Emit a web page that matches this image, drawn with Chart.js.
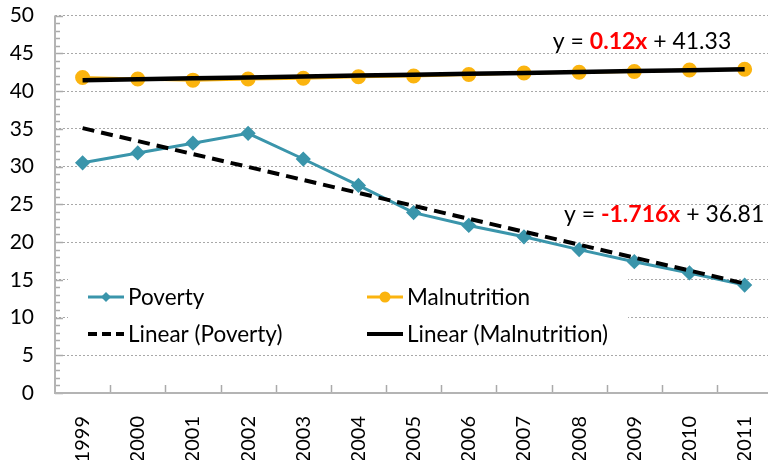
<!DOCTYPE html>
<html>
<head>
<meta charset="utf-8">
<script src="https://cdn.jsdelivr.net/npm/chart.js@4"></script>
<style>
  html, body { margin: 0; padding: 0; background: #fff; overflow: hidden; }
  #myCanvas { display: block; margin-top: -18px; }
</style>
</head>
<body>
<canvas id="myCanvas" width="784" height="478"></canvas>
<script>
const years = ["1999", "2000", "2001", "2002", "2003", "2004", "2005", "2006", "2007", "2008", "2009", "2010", "2011"];
const poverty = [30.5, 31.8, 33.1, 34.4, 31.0, 27.5, 23.9, 22.2, 20.7, 19.0, 17.4, 15.9, 14.3];
const malnutrition = [41.8, 41.6, 41.45, 41.6, 41.7, 41.9, 42.0, 42.2, 42.4, 42.5, 42.6, 42.8, 42.9];
const povertyTrend = [35.09, 33.38, 31.66, 29.95, 28.23, 26.51, 24.8, 23.08, 21.37, 19.65, 17.93, 16.22, 14.5];
const malnutritionTrend = [41.45, 41.57, 41.69, 41.81, 41.93, 42.05, 42.17, 42.29, 42.41, 42.53, 42.65, 42.77, 42.89];
const yTicks = [0, 5, 10, 15, 20, 25, 30, 35, 40, 45, 50];

const teal = "#3A95AB";
const orange = "#FBB40F";
const fontName = "Lato, 'DejaVu Sans', sans-serif";
const shiftY = 18; // canvas is pulled up by this much

// legend and axis decorations drawn by hand (legend sits inside the plot)
const extras = {
  id: "extras",
  beforeDatasetsDraw(chart) {
    const ctx = chart.ctx;
    const area = chart.chartArea;
    const x = chart.scales.x;
    const y = chart.scales.y;
    ctx.save();
    // minor / major ticks on y axis, inside
    ctx.strokeStyle = "#aaaaaa";
    ctx.lineWidth = 1.5;
    for (let v = 0; v <= 50; v++) {
      const py = Math.round(y.getPixelForValue(v)) + 0.5;
      const len = v % 5 === 0 ? 8 : 5;
      ctx.beginPath();
      ctx.moveTo(area.left, py);
      ctx.lineTo(area.left + len, py);
      ctx.stroke();
    }
    // ticks between categories on x axis
    for (let i = 1; i < years.length; i++) {
      const px = Math.round(x.getPixelForValue(i - 0.5)) + 0.5;
      ctx.beginPath();
      ctx.moveTo(px, area.bottom);
      ctx.lineTo(px, area.bottom - 8);
      ctx.stroke();
    }
    // axis lines
    ctx.strokeStyle = "#b4b4b4";
    ctx.lineWidth = 2;
    ctx.beginPath();
    ctx.moveTo(area.left, area.top);
    ctx.lineTo(area.left, area.bottom);
    ctx.lineTo(area.right, area.bottom);
    ctx.stroke();

    // legend box
    ctx.translate(0, shiftY);
    ctx.fillStyle = "#fff";
    ctx.fillRect(68, 266, 560, 84);
    ctx.font = "22.5px " + fontName;
    ctx.textBaseline = "middle";
    ctx.fillStyle = "#000";
    const rows = [297, 334];
    const cols = [88, 367];
    const entries = [
      { label: "Poverty", col: 0, row: 0, color: teal, width: 3, dash: [], marker: "diamond" },
      { label: "Malnutrition", col: 1, row: 0, color: orange, width: 3, dash: [], marker: "circle" },
      { label: "Linear (Poverty)", col: 0, row: 1, color: "#000", width: 4, dash: [9, 5], marker: null },
      { label: "Linear (Malnutrition)", col: 1, row: 1, color: "#000", width: 4, dash: [], marker: null },
    ];
    entries.forEach(e => {
      const lx = cols[e.col];
      const ly = rows[e.row];
      ctx.strokeStyle = e.color;
      ctx.lineWidth = e.width;
      ctx.setLineDash(e.dash);
      ctx.beginPath();
      ctx.moveTo(lx, ly);
      ctx.lineTo(lx + 36, ly);
      ctx.stroke();
      ctx.setLineDash([]);
      ctx.fillStyle = e.color;
      if (e.marker === "diamond") {
        ctx.beginPath();
        ctx.moveTo(lx + 18, ly - 5);
        ctx.lineTo(lx + 23, ly);
        ctx.lineTo(lx + 18, ly + 5);
        ctx.lineTo(lx + 13, ly);
        ctx.closePath();
        ctx.fill();
      } else if (e.marker === "circle") {
        ctx.beginPath();
        ctx.arc(lx + 18, ly, 5.5, 0, Math.PI * 2);
        ctx.fill();
      }
      ctx.fillStyle = "#000";
      ctx.textAlign = "left";
      ctx.fillText(e.label, lx + 40, ly + 1);
    });
    ctx.restore();
  },
  afterDatasetsDraw(chart) {
    const ctx = chart.ctx;
    const x = chart.scales.x;
    const y = chart.scales.y;
    const drawEq = (parts, cx, baseline) => {
      ctx.save();
      ctx.textBaseline = "alphabetic";
      ctx.textAlign = "left";
      let total = 0;
      parts.forEach(p => {
        ctx.font = (p.bold ? "bold " : "") + "23px " + fontName;
        total += ctx.measureText(p.text).width;
      });
      let px = cx - total / 2;
      parts.forEach(p => {
        ctx.font = (p.bold ? "bold " : "") + "23px " + fontName;
        ctx.fillStyle = p.color;
        ctx.fillText(p.text, px, baseline);
        px += ctx.measureText(p.text).width;
      });
      ctx.restore();
    };
    drawEq([
      { text: "y = ", color: "#000" },
      { text: "0.12x", color: "#FF0000", bold: true },
      { text: " + 41.33", color: "#000" },
    ], x.getPixelForValue(10.14), y.getPixelForValue(45.6));
    drawEq([
      { text: "y = ", color: "#000" },
      { text: "-1.716x", color: "#FF0000", bold: true },
      { text: " + 36.81", color: "#000" },
    ], x.getPixelForValue(10.54), y.getPixelForValue(22.6));
  },
};

const myCanvas = document.querySelector("#myCanvas");

const myChart = new Chart(myCanvas, {
  type: "line",
  data: {
    labels: years,
    datasets: [
      {
        label: "Linear (Poverty)",
        data: povertyTrend,
        borderColor: "#000",
        borderWidth: 4,
        borderDash: [12, 7],
        pointRadius: 0,
        order: 0,
      },
      {
        label: "Linear (Malnutrition)",
        data: malnutritionTrend,
        borderColor: "#000",
        borderWidth: 4.5,
        pointRadius: 0,
        order: 0,
      },
      {
        label: "Poverty",
        data: poverty,
        borderColor: teal,
        backgroundColor: teal,
        borderWidth: 3,
        pointStyle: "rectRot",
        pointRadius: 5.5,
        order: 1,
      },
      {
        label: "Malnutrition",
        data: malnutrition,
        borderColor: orange,
        backgroundColor: orange,
        borderWidth: 3,
        pointStyle: "circle",
        pointRadius: 6,
        order: 1,
      },
    ],
  },
  options: {
    responsive: false,
    animation: false,
    layout: {
      padding: { top: 0, right: 0, left: 0, bottom: 0 },
    },
    plugins: {
      legend: { display: false },
      tooltip: { enabled: false },
    },
    scales: {
      x: {
        offset: true,
        grid: { display: false },
        border: { display: false },
        ticks: {
          color: "#000",
          font: { family: fontName, size: 20 },
          minRotation: 90,
          maxRotation: 90,
          padding: 15,
        },
        afterFit(scale) {
          scale.height = 67;
        },
      },
      y: {
        min: 0,
        max: 50,
        afterBuildTicks(scale) {
          scale.ticks = yTicks.map(v => ({ value: v }));
        },
        grid: {
          color: "#a8a8a8",
          lineWidth: 1,
          drawTicks: false,
        },
        border: { display: false, dash: [2, 2] },
        ticks: {
          color: "#000",
          font: { family: fontName, size: 21 },
          padding: 21,
        },
        afterFit(scale) {
          scale.width = 55;
        },
      },
    },
  },
  plugins: [extras],
});
</script>
</body>
</html>
